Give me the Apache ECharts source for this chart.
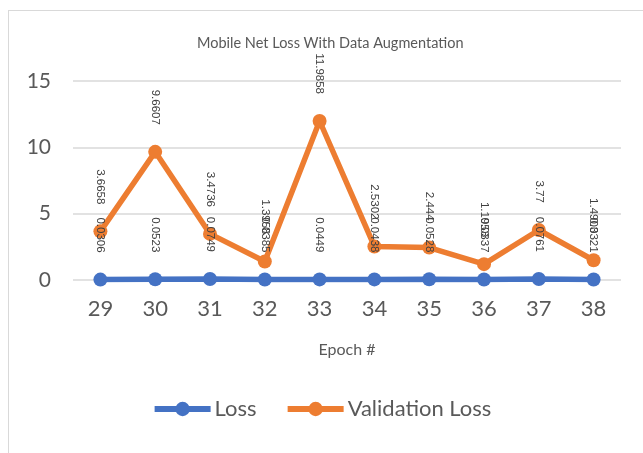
<!DOCTYPE html>
<html>
<head>
<meta charset="utf-8">
<script src="https://cdn.jsdelivr.net/npm/echarts@6/dist/echarts.min.js"></script>
<style>
  html, body { margin: 0; padding: 0; background: #fff; }
  #frame { position: absolute; left: 8px; top: 10px; width: 640px; height: 450px; border: 1px solid #d9d9d9; }
  #main { position: absolute; left: 0; top: 0; width: 643px; height: 453px; }
</style>
</head>
<body>
<div id="frame"></div>
<div id="main"></div>
<script>
// epochs on the x axis
var epochs = ['29', '30', '31', '32', '33', '34', '35', '36', '37', '38'];
// training loss
var loss = [0.0306, 0.0523, 0.0749, 0.0385, 0.0449, 0.0438, 0.0528, 0.0337, 0.0761, 0.0321];
// validation loss
var valLoss = [3.6658, 9.6607, 3.4736, 1.3958, 11.9858, 2.5302, 2.4440, 1.1953, 3.77, 1.4903];

var FONT = 'Lato';
var GREY = '#595959';

function labelCfg() {
  return {
    show: true,
    position: 'top',
    distance: 20,
    rotate: -90,
    align: 'right',
    verticalAlign: 'middle',
    fontFamily: 'Liberation Sans',
    fontSize: 11.5,
    color: '#404040',
    formatter: function (p) { return p.value; }
  };
}

var chart = echarts.init(document.getElementById('main'), null, { renderer: 'canvas' });

chart.setOption({
  animation: false,
  title: {
    text: 'Mobile Net Loss With Data Augmentation',
    left: 192,
    top: 31,
    textStyle: { fontFamily: FONT, fontSize: 14.5, fontWeight: 'normal', color: GREY }
  },
  legend: {
    bottom: 28,
    left: 'center',
    itemWidth: 56,
    itemHeight: 18,
    itemGap: 28,
    lineStyle: { width: 6 },
    textStyle: { fontFamily: FONT, fontSize: 22, color: GREY, padding: [0, 0, 0, -1] },
    data: ['Loss', 'Validation Loss']
  },
  grid: { left: 73, right: 22, top: 81, bottom: 173 },
  xAxis: {
    type: 'category',
    data: epochs,
    boundaryGap: true,
    name: 'Epoch #',
    nameLocation: 'middle',
    nameGap: 62,
    nameTextStyle: { fontFamily: FONT, fontSize: 16, color: GREY },
    axisLine: { show: false },
    axisTick: { show: false },
    axisLabel: { fontFamily: FONT, fontSize: 22, color: GREY, margin: 18 }
  },
  yAxis: {
    type: 'value',
    min: 0,
    max: 15,
    interval: 5,
    axisLine: { show: false },
    axisTick: { show: false },
    axisLabel: { fontFamily: FONT, fontSize: 21, color: GREY, margin: 22 },
    splitLine: { lineStyle: { color: '#d9d9d9', width: 1.5 } }
  },
  series: [
    {
      name: 'Loss',
      type: 'line',
      data: loss,
      symbol: 'circle',
      symbolSize: 14,
      lineStyle: { width: 5.5, color: '#4472C4' },
      itemStyle: { color: '#4472C4' },
      label: labelCfg(),
      z: 3
    },
    {
      name: 'Validation Loss',
      type: 'line',
      data: valLoss,
      symbol: 'circle',
      symbolSize: 14,
      lineStyle: { width: 5.5, color: '#ED7D31' },
      itemStyle: { color: '#ED7D31' },
      label: labelCfg(),
      z: 2
    }
  ]
});
</script>
</body>
</html>
